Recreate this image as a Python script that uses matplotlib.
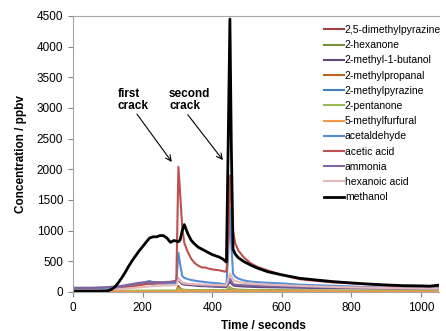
import matplotlib
matplotlib.use("Agg")
import matplotlib.pyplot as plt

plt.rcParams['font.family'] = ['Liberation Sans', 'DejaVu Sans']

# time grid (s), shared by all compounds
time_s = [0, 25, 50, 75, 100, 110, 120, 130, 140, 150,
          160, 170, 180, 190, 200, 210, 220, 230, 240, 250,
          260, 270, 280, 290, 297, 303, 308, 314, 320, 330,
          340, 350, 360, 370, 380, 390, 400, 410, 420, 430,
          441, 446, 451, 455, 460, 466, 475, 490, 510, 530,
          560, 600, 650, 700, 750, 800, 850, 900, 950, 1000,
          1025, 1050]

dimethylpyrazine = [5, 5, 5, 5, 5, 5, 5, 5, 6, 6,
                    7, 7, 8, 8, 8, 9, 9, 10, 10, 10,
                    10, 10, 10, 10, 12, 70, 45, 30, 27, 26,
                    25, 25, 25, 25, 25, 25, 25, 25, 25, 25,
                    25, 40, 60, 50, 35, 32, 30, 28, 26, 25,
                    23, 21, 19, 17, 15, 14, 13, 12, 11, 10,
                    10, 10]
hexanone = [10, 10, 10, 10, 11, 11, 12, 12, 12, 13,
            13, 13, 14, 14, 14, 15, 15, 15, 15, 15,
            15, 15, 15, 15, 16, 40, 30, 22, 21, 20,
            20, 20, 20, 20, 20, 20, 20, 20, 20, 20,
            20, 30, 40, 32, 25, 22, 20, 19, 18, 17,
            16, 15, 14, 13, 12, 11, 10, 10, 9, 9,
            8, 8]
methylbutanol = [55, 55, 55, 60, 65, 70, 75, 80, 85, 90,
                 100, 110, 115, 120, 125, 130, 135, 135, 140, 140,
                 140, 140, 145, 145, 150, 190, 160, 130, 120, 115,
                 110, 105, 100, 95, 95, 90, 90, 85, 85, 80,
                 80, 120, 180, 140, 110, 100, 95, 90, 85, 80,
                 78, 75, 70, 65, 62, 60, 57, 55, 52, 50,
                 50, 50]
methylpropanal = [8, 8, 8, 8, 8, 9, 9, 10, 10, 10,
                  10, 10, 10, 10, 10, 10, 10, 10, 10, 10,
                  10, 10, 10, 12, 15, 100, 60, 40, 35, 33,
                  32, 31, 30, 30, 29, 28, 28, 27, 26, 25,
                  25, 50, 80, 60, 50, 42, 38, 35, 32, 30,
                  28, 26, 24, 22, 20, 19, 18, 17, 16, 15,
                  15, 15]
methylpyrazine = [6, 6, 6, 6, 7, 7, 7, 8, 8, 8,
                  8, 9, 9, 9, 10, 10, 10, 10, 10, 10,
                  10, 10, 10, 10, 12, 50, 35, 25, 22, 21,
                  20, 20, 20, 20, 20, 20, 20, 20, 20, 20,
                  20, 40, 60, 45, 30, 25, 22, 20, 19, 18,
                  17, 16, 15, 14, 13, 12, 11, 10, 9, 9,
                  8, 8]
pentanone = [18, 18, 18, 18, 19, 19, 20, 20, 20, 21,
             21, 22, 22, 22, 23, 23, 24, 24, 24, 25,
             25, 25, 25, 25, 27, 60, 45, 35, 32, 31,
             30, 30, 30, 30, 30, 30, 30, 30, 30, 30,
             30, 50, 70, 55, 40, 35, 32, 30, 29, 28,
             27, 25, 24, 22, 21, 20, 19, 18, 17, 16,
             15, 15]
methylfurfural = [3, 3, 3, 3, 3, 3, 3, 4, 4, 4,
                  4, 4, 4, 4, 5, 5, 5, 5, 5, 5,
                  5, 5, 5, 5, 6, 25, 18, 12, 11, 10,
                  10, 10, 10, 10, 10, 10, 10, 10, 10, 10,
                  10, 15, 20, 16, 12, 10, 10, 9, 9, 8,
                  8, 7, 7, 6, 6, 5, 5, 5, 4, 4,
                  3, 3]
acetaldehyde = [40, 40, 40, 45, 50, 60, 70, 80, 90, 100,
                110, 120, 130, 140, 150, 165, 180, 160, 150, 150,
                150, 145, 145, 150, 160, 640, 450, 260, 230, 210,
                195, 185, 175, 170, 160, 155, 150, 145, 140, 130,
                120, 600, 1380, 800, 300, 250, 220, 190, 170, 160,
                150, 140, 120, 110, 100, 90, 80, 75, 70, 65,
                60, 60]
acetic_acid = [20, 20, 25, 25, 30, 35, 40, 50, 60, 70,
               80, 90, 100, 110, 120, 130, 140, 150, 150, 150,
               155, 160, 165, 175, 190, 2040, 1600, 1050, 800, 650,
               540, 470, 430, 400, 400, 380, 370, 360, 355, 340,
               330, 800, 1900, 1500, 1000, 800, 680, 570, 470, 410,
               350, 280, 210, 180, 155, 140, 125, 110, 100, 95,
               90, 100]
ammonia = [70, 70, 70, 75, 80, 85, 90, 95, 100, 110,
           120, 130, 140, 150, 155, 160, 160, 160, 160, 160,
           160, 165, 165, 170, 170, 220, 180, 150, 140, 130,
           125, 120, 115, 110, 105, 100, 100, 95, 95, 90,
           90, 150, 220, 180, 130, 120, 115, 110, 105, 100,
           95, 90, 85, 80, 75, 70, 68, 65, 62, 60,
           60, 60]
hexanoic_acid = [30, 30, 30, 30, 35, 38, 40, 45, 50, 55,
                 60, 65, 70, 75, 80, 85, 90, 95, 100, 100,
                 105, 105, 110, 110, 115, 210, 180, 150, 140, 135,
                 130, 125, 125, 120, 120, 118, 115, 115, 112, 110,
                 110, 200, 300, 260, 200, 180, 165, 150, 140, 130,
                 120, 110, 100, 90, 82, 75, 70, 65, 60, 55,
                 55, 55]
methanol = [15, 15, 15, 15, 20, 40, 80, 150, 230, 320,
            420, 510, 590, 670, 740, 810, 880, 900, 900, 920,
            920, 880, 810, 840, 830, 820, 850, 1000, 1100, 950,
            840, 780, 730, 700, 670, 640, 610, 590, 570, 540,
            490, 2400, 4450, 2400, 700, 620, 560, 500, 440, 390,
            330, 280, 225, 195, 168, 148, 130, 115, 103, 100,
            95, 110]

names = ["2,5-dimethylpyrazine", "2-hexanone", "2-methyl-1-butanol",
         "2-methylpropanal", "2-methylpyrazine", "2-pentanone",
         "5-methylfurfural", "acetaldehyde", "acetic acid", "ammonia",
         "hexanoic acid", "methanol"]
series = [dimethylpyrazine, hexanone, methylbutanol, methylpropanal,
          methylpyrazine, pentanone, methylfurfural, acetaldehyde,
          acetic_acid, ammonia, hexanoic_acid, methanol]
colors = ["#a0403e", "#77933c", "#604a7b", "#c0651f", "#4a7ebb", "#9bbb59",
          "#f79646", "#558ed5", "#c0504d", "#8064a2", "#e6b9b8", "#000000"]

fig = plt.figure(figsize=(4.46, 3.31), dpi=100)
ax = fig.add_axes([73/446, 39/331, 366/446, 276/331])

for name, vals, col in zip(names, series, colors):
    lw = 2.0 if name == "methanol" else 1.5
    ax.plot(time_s, vals, color=col, lw=lw, label=name)

ax.set_xlim(0, 1052)
ax.set_ylim(0, 4500)
ax.set_xticks(range(0, 1001, 200))
ax.set_yticks(range(0, 4501, 500))
ax.tick_params(labelsize=8.5, length=3.5, color="#868686", width=0.8)

for side in ["left", "bottom", "top"]:
    ax.spines[side].set_color("#a6a6a6")
    ax.spines[side].set_linewidth(0.8)
ax.spines["right"].set_visible(False)

ax.set_xlabel("Time / seconds", fontsize=8.5, fontweight="bold")
ax.set_ylabel("Concentration / ppbv", fontsize=8.5, fontweight="bold", labelpad=7)
ax.xaxis.set_label_coords(0.52, -0.10)

arrow = dict(arrowstyle="->", color="black", lw=0.8, shrinkA=0, shrinkB=0)
ax.annotate("first\ncrack", xy=(284, 2120), xytext=(129, 3330),
            fontsize=8.5, fontweight="bold", va="top", ha="left",
            linespacing=1.0)
ax.annotate("", xy=(284, 2120), xytext=(184, 2900), arrowprops=arrow)
ax.annotate("second\ncrack", xy=(431, 2150), xytext=(276, 3330),
            fontsize=8.5, fontweight="bold", va="top", ha="left",
            linespacing=1.0)
ax.annotate("", xy=(431, 2150), xytext=(330, 2890), arrowprops=arrow)

fig.legend(loc="upper left", bbox_to_anchor=(324/446, 1 - 25/331),
           frameon=False, fontsize=7.5, handlelength=1.9, handletextpad=0.1,
           labelspacing=0.5, borderpad=0, borderaxespad=0)

fig.savefig("out.png", dpi=100)
